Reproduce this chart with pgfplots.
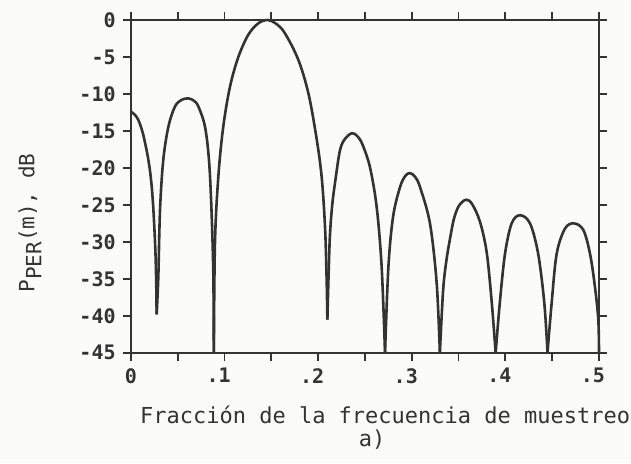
\documentclass[border=0pt]{standalone}
\usepackage{pgfplots}
\pgfplotsset{compat=1.18}
\usepackage{fontspec}
\setmainfont{DejaVu Sans Mono}

\definecolor{ink}{rgb}{0.2,0.2,0.2}
\definecolor{paper}{rgb}{0.985,0.985,0.975}

\pgfplotsset{lobe/.style={ink, line width=1.3pt, smooth, tension=0.55}}

\begin{document}
\begin{tikzpicture}
\useasboundingbox (-65.5pt,-55.2pt) rectangle (250pt,176.4pt);
\fill[paper] (-65.5pt,-55.2pt) rectangle (250pt,176.4pt);
\begin{axis}[
    scale only axis,
    width=234pt, height=166.4pt,
    xmin=0, xmax=0.5,
    ymin=-45, ymax=0,
    clip=false,
    axis line style={ink, line width=1.2pt},
    tick align=outside,
    major tick length=4pt,
    tick style={ink, line width=0.9pt},
    xtick={0,0.05,0.1,0.15,0.2,0.25,0.3,0.35,0.4,0.45,0.5},
    xticklabels={0,,\llap{.}1,,\llap{.}2,,\llap{.}3,,\llap{.}4,,\llap{.}5},
    ytick={-45,-40,-35,-30,-25,-20,-15,-10,-5,0},
    yticklabels={-45,-40,-35,-30,-25,-20,-15,-10,-5,0},
    ticklabel style={font=\fontsize{10}{11}\selectfont\bfseries, text=ink},
    xticklabel style={anchor=north, inner sep=0pt, yshift=-3.5pt},
    yticklabel style={anchor=east, inner sep=0pt, xshift=-3.5pt},
    xlabel={Fracción de la frecuencia de muestreo},
    xlabel style={at={(rel axis cs:0.543,-0.187)}, anchor=center,
        font=\fontsize{11}{13}\selectfont, text=ink},
    ylabel={P\raisebox{-0.6ex}{PER}(m), dB},
    ylabel style={at={(rel axis cs:-0.216,0.39)}, anchor=center,
        font=\fontsize{10.5}{12}\selectfont, text=ink},
]
% lobe at the origin
\addplot[lobe] coordinates {
(0,-12.4) (0.004,-12.8) (0.0078,-13.5) (0.012,-15.0) (0.015,-16.6)
(0.018,-18.5) (0.0203,-20.4) (0.0222,-22.6) (0.0238,-25.4) (0.0253,-29.0)
(0.0264,-32.5) (0.027,-36.0) (0.0274,-39.8)
};
\addplot[lobe] coordinates {
(0.0274,-39.8) (0.0292,-34.7) (0.031,-25.7) (0.0345,-18.9) (0.040,-14.4)
(0.047,-11.7) (0.054,-10.8) (0.0613,-10.6) (0.067,-10.9) (0.072,-11.7)
(0.079,-14.4) (0.0833,-18.9) (0.086,-25.7) (0.088,-34.7) (0.0885,-45)
};
% main lobe
\addplot[lobe] coordinates {
(0.0885,-45) (0.0897,-30.2) (0.0933,-21.2) (0.0986,-14.4) (0.1058,-9.0)
(0.1147,-5.0) (0.1253,-2.0) (0.136,-0.45) (0.146,0) (0.155,-0.5)
(0.1645,-1.8) (0.1788,-5.4) (0.1895,-9.9) (0.198,-15.8) (0.2037,-21.2)
(0.2073,-28.0) (0.209,-35.0) (0.2098,-40.5)
};
\addplot[lobe] coordinates {
(0.2098,-40.5) (0.2112,-34.0) (0.2126,-29.0) (0.215,-25.0) (0.218,-22.0)
(0.2233,-17.6) (0.229,-16.0) (0.2365,-15.3) (0.2425,-15.8) (0.2475,-16.9)
(0.2553,-19.9) (0.2625,-25.3) (0.2678,-33.4) (0.2714,-45)
};
\addplot[lobe] coordinates {
(0.2714,-45) (0.275,-33.4) (0.280,-26.6) (0.2874,-22.6) (0.293,-21.1)
(0.298,-20.7) (0.3035,-21.2) (0.3088,-22.6) (0.3194,-27.5) (0.3266,-35.6)
(0.330,-45)
};
\addplot[lobe] coordinates {
(0.330,-45) (0.3335,-36.5) (0.337,-32.5) (0.3408,-29.6) (0.3444,-27.2)
(0.3475,-25.9) (0.351,-25.0) (0.358,-24.3) (0.3645,-24.9) (0.3729,-27.3)
(0.380,-31.4) (0.3853,-38.0) (0.3896,-45)
};
\addplot[lobe] coordinates {
(0.3896,-45) (0.394,-38.3) (0.3996,-31.6) (0.4067,-27.5) (0.4156,-26.4)
(0.4263,-27.5) (0.435,-31.6) (0.4416,-38.3) (0.445,-45)
};
\addplot[lobe] coordinates {
(0.445,-45) (0.4494,-38.3) (0.4548,-31.6) (0.4637,-28.2) (0.4733,-27.5)
(0.4833,-28.4) (0.4904,-31.6) (0.4957,-36.1) (0.4993,-40.6) (0.5,-45)
};
\node[font=\fontsize{11}{13}\selectfont, text=ink] at (rel axis cs:0.515,-0.262) {a)};
\end{axis}
\end{tikzpicture}
\end{document}
